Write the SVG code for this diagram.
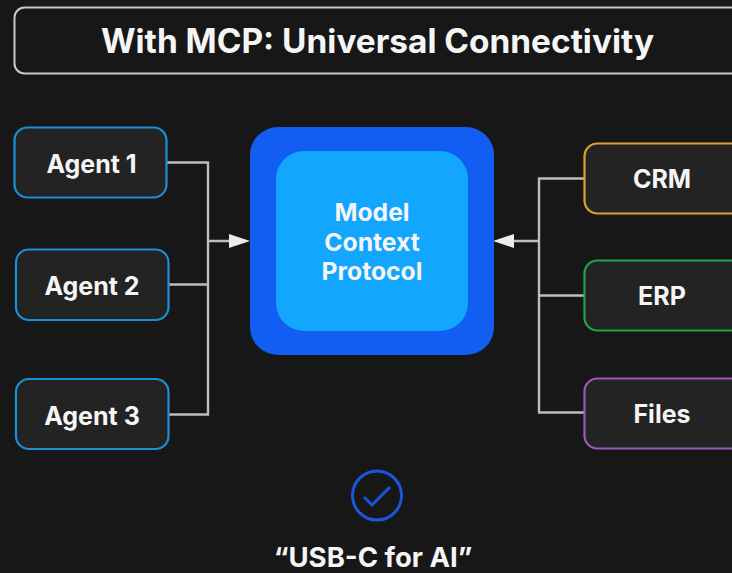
<svg xmlns="http://www.w3.org/2000/svg" width="732" height="573" viewBox="0 0 732 573">
<style>
text{font-family:Inter,"Liberation Sans",sans-serif;font-weight:700;fill:#f5f5f5;text-anchor:middle}
.n{fill:#232323;stroke-width:2.200}
.l{font-size:25px}
.c{fill:none;stroke:#bdbdbd;stroke-width:2.400}
.a{fill:#ececec}
.m{font-size:24.700px}
</style>
<rect width="732" height="573" fill="#171717"/>
<g id="title"><rect x="14.500" y="7.500" width="730" height="66" rx="10" fill="#171717" stroke="#c8c8c8" stroke-width="2"/><text x="377.500" y="52.500" font-size="33.400">With MCP: Universal Connectivity</text></g>
<g id="connectors">
<path class="c" d="M167 162.500H208V414.500H169M169 284.500H208M208 241H232"/>
<path class="c" d="M584 178.500H539V412.500H584M584 295.500H539M539 241H512"/>
<path class="a" d="M229 234L250 241L229 248Z"/>
<path class="a" d="M514 234L493 241L514 248Z"/>
</g>
<g id="agent1"><rect class="n" x="14.500" y="127.500" width="152" height="70" rx="13" stroke="#1a8fd6"/><text class="l" x="91.500" y="172.500">Agent 1</text></g>
<g id="agent2"><rect class="n" x="16" y="249.500" width="152.500" height="70.500" rx="13" stroke="#1a8fd6"/><text class="l" x="92" y="294.500">Agent 2</text></g>
<g id="agent3"><rect class="n" x="16" y="379" width="152.500" height="70" rx="13" stroke="#1a8fd6"/><text class="l" x="92" y="424.500">Agent 3</text></g>
<g id="mcp"><rect x="250" y="127" width="244" height="228" rx="28" fill="#135ef2"/><rect x="276" y="151" width="192" height="180" rx="28" fill="#12a6ff"/>
<text class="m" x="372" y="221">Model</text><text class="m" x="372" y="250.500">Context</text><text class="m" x="372" y="280">Protocol</text></g>
<g id="crm"><rect class="n" x="584.500" y="143.500" width="160" height="70" rx="13" stroke="#e0a030"/><text class="l" x="662" y="187.500">CRM</text></g>
<g id="erp"><rect class="n" x="584.500" y="260.500" width="160" height="70" rx="13" stroke="#1aa647"/><text class="l" x="662" y="304.500">ERP</text></g>
<g id="files"><rect class="n" x="584.500" y="378.500" width="160" height="70" rx="13" stroke="#9b59b6"/><text class="l" x="662" y="422.500">Files</text></g>
<g id="usbc"><circle cx="377" cy="495.500" r="24.500" fill="none" stroke="#1a56db" stroke-width="3"/><path d="M364 497L372 505L390 487" fill="none" stroke="#1a56db" stroke-width="3"/><text x="373" y="567" font-size="27.500">“USB-C for AI”</text></g>
</svg>
